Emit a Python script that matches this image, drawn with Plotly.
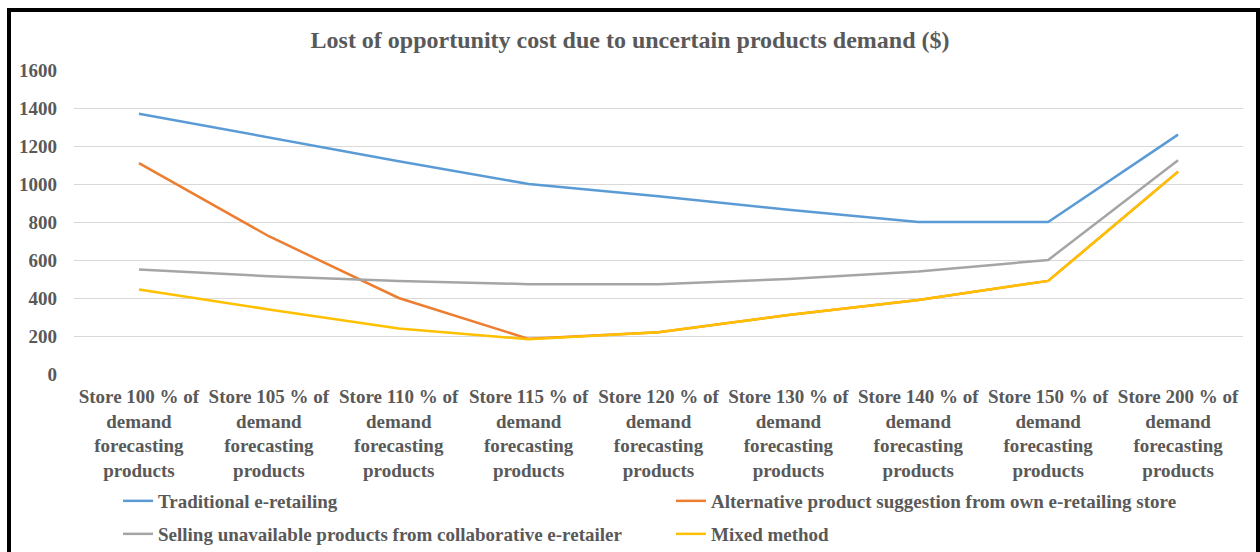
import plotly.graph_objects as go

categories = [
    "Store 100 % of<br>demand<br>forecasting<br>products",
    "Store 105 % of<br>demand<br>forecasting<br>products",
    "Store 110 % of<br>demand<br>forecasting<br>products",
    "Store 115 % of<br>demand<br>forecasting<br>products",
    "Store 120 % of<br>demand<br>forecasting<br>products",
    "Store 130 % of<br>demand<br>forecasting<br>products",
    "Store 140 % of<br>demand<br>forecasting<br>products",
    "Store 150 % of<br>demand<br>forecasting<br>products",
    "Store 200 % of<br>demand<br>forecasting<br>products",
]
traditional = [1370, 1245, 1120, 1000, 935, 865, 800, 800, 1260]
alternative = [1110, 725, 400, 185, 220, 310, 390, 490, 1065]
collaborative = [550, 515, 490, 473, 473, 500, 540, 600, 1125]
mixed = [445, 340, 240, 183, 220, 310, 390, 490, 1065]

names = [
    "Traditional e-retailing",
    "Alternative product suggestion from own e-retailing store",
    "Selling unavailable products from collaborative e-retailer",
    "Mixed method",
]
colors = ["#5B9BD5", "#ED7D31", "#A5A5A5", "#FFC000"]
series = [traditional, alternative, collaborative, mixed]
legend_ids = ["legend", "legend", "legend2", "legend2"]

FONT = "Liberation Serif"
TXT = "#595959"

L, R, T, B = 74, 17, 70, 178
PW = 1260 - L - R
PH = 552 - T - B


def px_x(px):
    return (px - L) / PW


def px_y(py):
    return (552 - B - py) / PH


fig = go.Figure()
for nm, col, vals, lg in zip(names, colors, series, legend_ids):
    fig.add_trace(go.Scatter(
        x=categories, y=vals, mode="lines", name=nm, legend=lg,
        line=dict(color=col, width=2.5),
    ))

legend_common = dict(
    orientation="h", xanchor="left", yanchor="middle",
    entrywidth=508, entrywidthmode="pixels",
    font=dict(family=FONT, size=19, color=TXT, weight="bold"),
    traceorder="normal", itemwidth=30, bgcolor="rgba(0,0,0,0)",
)

fig.update_layout(
    width=1260, height=552,
    margin=dict(l=L, r=R, t=T, b=B, autoexpand=False),
    paper_bgcolor="white", plot_bgcolor="white",
    title=dict(
        text="Lost of opportunity cost due to uncertain products demand ($)",
        x=0.5, xanchor="center", y=1 - 40 / 552, yanchor="middle",
        font=dict(family=FONT, size=24, color=TXT, weight="bold"),
    ),
    xaxis=dict(
        type="category", range=[-0.5, len(categories) - 0.5],
        showgrid=False, showline=False, ticks="",
        tickangle=0, automargin=False,
        tickfont=dict(family=FONT, size=19, color=TXT, weight="bold"),
        ticklabelstandoff=9,
    ),
    yaxis=dict(
        range=[0, 1600], dtick=200, showgrid=True, gridcolor="#D9D9D9",
        gridwidth=1, zeroline=False, showline=False, ticks="",
        automargin=False,
        tickfont=dict(family=FONT, size=19, color=TXT, weight="bold"),
        ticklabelstandoff=16,
    ),
    legend=dict(x=px_x(118), y=px_y(501), **legend_common),
    legend2=dict(x=px_x(118), y=px_y(534), **legend_common),
    shapes=[dict(
        type="rect", xref="paper", yref="paper",
        x0=px_x(9), x1=px_x(1258),
        y0=px_y(570), y1=px_y(10),
        line=dict(color="black", width=4), fillcolor="rgba(0,0,0,0)",
        layer="above",
    )],
    showlegend=True,
)

fig.write_html(
    "out.html",
    config={"displayModeBar": False},
    post_script="document.body.style.margin='0px';document.body.style.overflow='hidden';",
)
